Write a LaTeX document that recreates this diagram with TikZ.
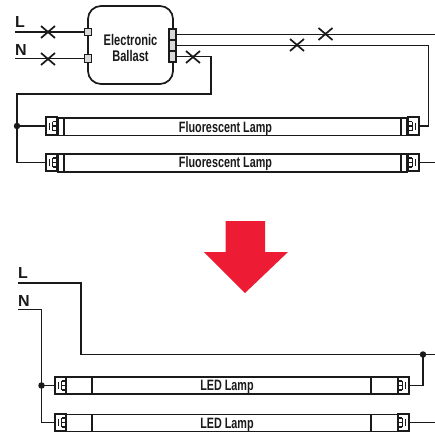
\documentclass[tikz,border=0pt]{standalone}
\usepackage{fontspec}
\setmainfont{Liberation Sans}
\newfontfamily\narrowfont[FakeStretch=0.72]{Liberation Sans}
\usetikzlibrary{calc}
\definecolor{ink}{HTML}{1A1A1A}
\definecolor{arrowred}{HTML}{ED1C34}
\tikzset{
  wire/.style={draw=ink,line width=1.8pt,line join=miter},
  part/.style={draw=ink,line width=1.7pt,fill=white,inner sep=0pt,outer sep=0pt,minimum width=#1},
  part/.default=10pt,
  term/.style={draw=ink,line width=1.3pt,fill=white!85!black,inner sep=0pt,outer sep=0pt,minimum width=7pt,minimum height=7.5pt},
  cross/.style={draw=ink,line width=1.7pt},
  junction/.style={circle,fill=ink,inner sep=0pt,minimum size=6.5pt},
  mains/.style={font=\bfseries\fontsize{16}{16}\selectfont,text=ink,inner sep=0pt,anchor=base west},
  lamptext/.style={font=\narrowfont\bfseries\fontsize{15}{15}\selectfont,text=ink,inner sep=0pt},
}
% cross marker
\newcommand{\crossat}[2]{\draw[cross] ($(#1,#2)+(-7,-6)$) -- ($(#1,#2)+(7,6)$) ($(#1,#2)+(-7,6)$) -- ($(#1,#2)+(7,-6)$);}
% lamp connector: name, centre x, centre y, direction (+1 pins point right, -1 left)
\newcommand{\lampconn}[4]{%
  \node[part=10.5pt,minimum height=17.5pt] (#1) at (#2,#3) {};
  \begin{scope}[shift={(#2,#3)},xscale=#4]
    \draw[ink,line width=1.3pt] (-1.8,-3.5) -- (-1.8,3.5);
    \draw[ink,line width=1.2pt] (1.3,-4.5) -- (1.3,4.5) (1.3,-4.5) -- (5.2,-4.5) (1.3,0) -- (5.2,0) (1.3,4.5) -- (5.2,4.5);
  \end{scope}}
\begin{document}
\begin{tikzpicture}[x=1pt,y=-1pt]
\useasboundingbox (0,0) rectangle (435,431);
\fill[white] (0,0) rectangle (435,431);

% ---- top: ballast
\node[draw=ink,line width=1.7pt,rounded corners=13pt,minimum width=85pt,minimum height=78pt,inner sep=0pt,outer sep=0pt] (ballast) at (130.5,45) {};
\node[align=center,font=\narrowfont\bfseries\fontsize{15.4}{16.5}\selectfont,text=ink,inner sep=0pt] (ballastText) at (130.5,48) {Electronic\\Ballast};
\node[term] (tl) at (88,32) {};
\node[term] (tn) at (88,58.5) {};
\node[term,minimum height=11pt] (o1) at (172.5,34.5) {};
\node[term,minimum height=11pt] (o2) at (172.5,45.5) {};
\node[term,minimum height=11pt] (o3) at (172.5,56.5) {};

\node[mains] (labL) at (15,27) {L};
\node[mains] (labN) at (15,55) {N};
\coordinate (sL) at (15,32);
\coordinate (sN) at (15,58.5);
\draw[wire] (sL) -- (tl.west);
\draw[wire] (sN) -- (tn.west);
\crossat{48}{32}
\crossat{48}{59}

% ---- top: lamps
\node[part=337pt,minimum height=17.5pt] (tube1) at (232.5,126.75) {};
\node[part=337pt,minimum height=17.5pt] (tube2) at (232.5,163) {};
\node[lamptext] (t1) at (225.5,128.5) {Fluorescent Lamp};
\node[lamptext] (t2) at (225.5,163.5) {Fluorescent Lamp};
\node[part=6.5pt,minimum height=17.5pt] (c1a) at (61,126.75) {};
\node[part=6.5pt,minimum height=17.5pt] (c1b) at (404,126.75) {};
\node[part=6.5pt,minimum height=17.5pt] (c2a) at (61,163) {};
\node[part=6.5pt,minimum height=17.5pt] (c2b) at (404,163) {};
\lampconn{p1a}{51.5}{126}{1}
\lampconn{p1b}{413.5}{126}{-1}
\lampconn{p2a}{51.5}{162.5}{1}
\lampconn{p2b}{413.5}{162.5}{-1}

\coordinate (out1) at (435,34.5);
\coordinate (bus) at (17,126);
\node[junction] (dotA) at (bus) {};
\coordinate (out2) at (435,162.5);
\draw[wire] (o1.east) -- (out1);
\draw[wire] (o2.east) -- (428.5,45.5) |- (p1b.east);
\draw[wire] (o3.east) -- (211,56.5) -- (211,94) -| (dotA.center) -- (p1a.west);
\draw[wire] (dotA.center) |- (p2a.west);
\draw[wire] (p2b.east) -- (out2);
\crossat{325.5}{34}
\crossat{297}{45}
\crossat{193}{57}

% ---- arrow
\fill[arrowred] (225.5,221) -- (265,221) -- (265,252) -- (288,252) -- (245,293) -- (204,252) -- (225.5,252) -- cycle;

% ---- bottom
\node[mains] (labL2) at (18,278) {L};
\node[mains] (labN2) at (18,306) {N};
\node[part=332pt,minimum height=17pt] (tube3) at (232,385.5) {};
\node[part=332pt,minimum height=17pt] (tube4) at (232,423) {};
\draw[ink,line width=1.7pt] (tube3.north west -| 92,0) -- (tube3.south west -| 92,0);
\draw[ink,line width=1.7pt] (tube3.north west -| 371,0) -- (tube3.south west -| 371,0);
\draw[ink,line width=1.7pt] (tube4.north west -| 92,0) -- (tube4.south west -| 92,0);
\draw[ink,line width=1.7pt] (tube4.north west -| 371,0) -- (tube4.south west -| 371,0);
\node[lamptext] (t3) at (227,386.5) {LED Lamp};
\node[lamptext] (t4) at (227,424.5) {LED Lamp};
\lampconn{p3a}{60.5}{385.5}{1}
\lampconn{p3b}{403.5}{385.5}{-1}
\lampconn{p4a}{60.5}{422.5}{1}
\lampconn{p4b}{403.5}{422.5}{-1}

\coordinate (sL2) at (18,283);
\coordinate (sN2) at (18,309.5);
\coordinate (outL) at (435,354.5);
\coordinate (outN) at (435,422.5);
\node[junction] (dotL) at (423,354.5) {};
\node[junction] (dotN) at (41.5,385.5) {};
\draw[wire] (sL2) -- (81,283) -- (81,354.5) -- (outL);
\draw[wire] (dotL.center) |- (p3b.east);
\draw[wire] (sN2) -- (41.5,309.5) -- (dotN.center) -- (p3a.west);
\draw[wire] (dotN.center) |- (p4a.west);
\draw[wire] (p4b.east) -- (outN);
\end{tikzpicture}
\end{document}
